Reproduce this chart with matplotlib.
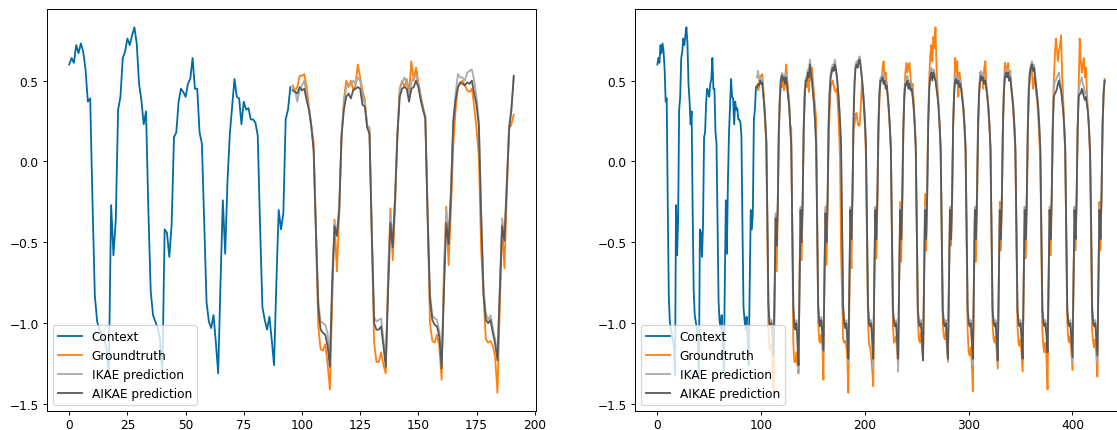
import numpy as np
import matplotlib
matplotlib.use("Agg")
import matplotlib.pyplot as plt

plt.style.use('tableau-colorblind10')

# context (first 96 steps, same in both panels)
context = [
    0.60, 0.64, 0.61, 0.72, 0.67, 0.73, 0.68, 0.57, 0.37, 0.39,
    -0.25, -0.83, -0.99, -1.04, -1.07, -1.10, -1.15, -1.32, -0.27, -0.58,
    -0.36, 0.32, 0.40, 0.64, 0.68, 0.76, 0.72, 0.78, 0.83, 0.73,
    0.48, 0.38, 0.23, 0.31, -0.30, -0.80, -0.95, -0.99, -1.03, -1.10,
    -1.32, -0.42, -0.44, -0.59, -0.39, 0.15, 0.18, 0.37, 0.45, 0.43,
    0.40, 0.48, 0.51, 0.64, 0.45, 0.45, 0.18, 0.11, -0.38, -0.87,
    -0.99, -1.03, -0.95, -1.12, -1.31, -0.75, -0.24, -0.57, -0.12, 0.17,
    0.34, 0.51, 0.40, 0.39, 0.23, 0.37, 0.32, 0.33, 0.26, 0.26,
    0.24, 0.16, -0.40, -0.90, -0.98, -1.04, -0.96, -1.10, -1.26, -0.75,
    -0.30, -0.42, -0.32, 0.26, 0.32, 0.46,
]

# groundtruth, steps 96-191
truth_short = [
    0.47, 0.44, 0.46, 0.53, 0.53, 0.54, 0.46, 0.34, 0.22, 0.12,
    -0.44, -1.02, -1.16, -1.17, -1.13, -1.25, -1.41, -0.85, -0.36, -0.68,
    -0.32, 0.14, 0.38, 0.50, 0.46, 0.50, 0.44, 0.47, 0.60, 0.52,
    0.44, 0.38, 0.22, 0.21, -0.45, -1.12, -1.24, -1.24, -1.18, -1.26,
    -1.31, -0.70, -0.29, -0.61, -0.28, 0.16, 0.45, 0.50, 0.46, 0.51,
    0.43, 0.62, 0.50, 0.58, 0.49, 0.41, 0.34, 0.26, -0.35, -1.00,
    -1.11, -1.12, -1.07, -1.14, -1.35, -0.65, -0.28, -0.64, -0.30, 0.10,
    0.32, 0.46, 0.48, 0.50, 0.47, 0.44, 0.43, 0.45, 0.34, 0.20,
    0.03, -0.55, -0.82, -1.10, -1.12, -1.11, -1.14, -1.21, -1.43, -0.90,
    -0.40, -0.66, -0.20, 0.20, 0.23, 0.29,
]

# groundtruth, steps 192-431 (one row per day)
truth_long_days = [
    [0.30, 0.24, 0.22, 0.23, 0.34, 0.48, 0.42, 0.34, 0.22, 0.02, -0.52, -1.00,
     -1.13, -1.15, -1.20, -1.28, -1.39, -0.80, -0.30, -0.60, -0.28, 0.12, 0.38, 0.50],
    [0.51, 0.58, 0.62, 0.52, 0.55, 0.48, 0.40, 0.30, 0.20, 0.08, -0.50, -1.02,
     -1.12, -1.10, -1.08, -1.18, -1.25, -0.70, -0.25, -0.62, -0.30, 0.15, 0.42, 0.55],
    [0.61, 0.55, 0.60, 0.61, 0.52, 0.45, 0.48, 0.38, 0.25, 0.10, -0.45, -0.98,
     -1.10, -1.12, -1.06, -1.15, -1.22, -0.65, -0.20, -0.55, -0.12, 0.28, 0.52, 0.66],
    [0.72, 0.62, 0.77, 0.70, 0.83, 0.58, 0.45, 0.35, 0.22, 0.05, -0.50, -1.00,
     -1.08, -1.10, -1.05, -1.16, -1.22, -0.70, -0.30, -0.52, -0.28, 0.20, 0.45, 0.64],
    [0.55, 0.62, 0.40, 0.55, 0.50, 0.44, 0.38, 0.30, 0.20, 0.06, -0.50, -1.05,
     -1.18, -1.20, -1.15, -1.25, -1.42, -0.80, -0.30, -0.62, -0.28, 0.15, 0.40, 0.55],
    [0.52, 0.55, 0.45, 0.58, 0.62, 0.48, 0.40, 0.32, 0.22, 0.08, -0.48, -1.00,
     -1.10, -1.12, -1.08, -1.18, -1.28, -0.75, -0.25, -0.55, -0.22, 0.22, 0.48, 0.61],
    [0.55, 0.58, 0.61, 0.50, 0.56, 0.45, 0.40, 0.30, 0.20, 0.05, -0.50, -1.02,
     -1.12, -1.14, -1.10, -1.20, -1.30, -0.72, -0.28, -0.60, -0.30, 0.18, 0.45, 0.52],
    [0.57, 0.55, 0.45, 0.52, 0.50, 0.42, 0.38, 0.28, 0.15, 0.02, -0.52, -1.05,
     -1.15, -1.18, -1.12, -1.22, -1.41, -0.78, -0.30, -0.58, -0.25, 0.20, 0.50, 0.65],
    [0.76, 0.70, 0.62, 0.68, 0.72, 0.78, 0.55, 0.40, 0.22, 0.05, -0.50, -1.00,
     -1.10, -1.12, -1.08, -1.18, -1.29, -0.72, -0.28, -0.55, -0.25, 0.20, 0.48, 0.76],
    [0.62, 0.55, 0.60, 0.64, 0.52, 0.58, 0.42, 0.30, 0.18, 0.02, -0.52, -1.05,
     -1.12, -1.15, -1.10, -1.20, -1.33, -0.75, -0.25, -0.55, -0.20, 0.22, 0.40, 0.51],
]

# predictions for the 96-step horizon (left panel)
ikae_short = [
    0.45, 0.44, 0.37, 0.44, 0.47, 0.50, 0.40, 0.33, 0.22, 0.08,
    -0.40, -0.86, -0.99, -1.00, -1.01, -1.06, -1.24, -0.72, -0.38, -0.44,
    -0.28, 0.17, 0.35, 0.46, 0.48, 0.47, 0.50, 0.48, 0.52, 0.50,
    0.40, 0.36, 0.23, 0.19, -0.42, -0.96, -0.99, -0.98, -0.97, -1.10,
    -1.24, -0.76, -0.33, -0.50, -0.21, 0.18, 0.44, 0.49, 0.52, 0.48,
    0.40, 0.49, 0.52, 0.53, 0.48, 0.40, 0.33, 0.28, -0.32, -0.82,
    -0.95, -0.97, -0.98, -1.05, -1.25, -0.76, -0.30, -0.46, -0.18, 0.26,
    0.42, 0.54, 0.52, 0.52, 0.50, 0.55, 0.56, 0.57, 0.50, 0.40,
    0.25, -0.30, -0.78, -0.94, -0.98, -0.95, -1.03, -1.10, -1.20, -0.78,
    -0.35, -0.46, -0.12, 0.22, 0.34, 0.52,
]
aikae_short = [
    0.44, 0.43, 0.42, 0.46, 0.44, 0.45, 0.38, 0.32, 0.22, 0.07,
    -0.44, -0.90, -1.04, -1.06, -1.07, -1.14, -1.27, -0.75, -0.40, -0.46,
    -0.30, 0.16, 0.32, 0.40, 0.42, 0.39, 0.44, 0.45, 0.46, 0.45,
    0.35, 0.34, 0.21, 0.17, -0.45, -1.00, -1.04, -1.04, -1.02, -1.14,
    -1.27, -0.80, -0.38, -0.53, -0.23, 0.16, 0.40, 0.45, 0.46, 0.45,
    0.37, 0.45, 0.46, 0.50, 0.46, 0.38, 0.32, 0.27, -0.35, -0.85,
    -0.98, -1.01, -1.02, -1.08, -1.28, -0.80, -0.38, -0.51, -0.20, 0.24,
    0.38, 0.46, 0.49, 0.48, 0.47, 0.49, 0.48, 0.50, 0.42, 0.35,
    0.22, -0.35, -0.82, -0.98, -1.00, -0.98, -1.06, -1.13, -1.23, -0.80,
    -0.40, -0.49, -0.15, 0.20, 0.32, 0.53,
]

# predictions for the 336-step horizon (right panel), one row per day
aikae_long_days = [
    [0.46, 0.48, 0.47, 0.50, 0.48, 0.49, 0.42, 0.35, 0.25, 0.12, -0.35, -0.88,
     -1.00, -1.02, -1.00, -1.08, -1.20, -0.80, -0.35, -0.52, -0.28, 0.18, 0.38, 0.50],
    [0.53, 0.50, 0.52, 0.48, 0.52, 0.47, 0.40, 0.34, 0.22, 0.10, -0.38, -0.90,
     -1.02, -1.04, -1.00, -1.10, -1.26, -0.78, -0.30, -0.50, -0.25, 0.20, 0.40, 0.50],
    [0.50, 0.55, 0.52, 0.60, 0.55, 0.50, 0.42, 0.35, 0.24, 0.10, -0.38, -0.90,
     -1.00, -1.02, -0.98, -1.08, -1.17, -0.75, -0.32, -0.50, -0.25, 0.22, 0.42, 0.52],
    [0.55, 0.58, 0.56, 0.60, 0.57, 0.52, 0.45, 0.36, 0.25, 0.10, -0.38, -0.90,
     -1.00, -1.03, -1.00, -1.10, -1.22, -0.75, -0.30, -0.48, -0.22, 0.25, 0.48, 0.58],
    [0.60, 0.58, 0.62, 0.63, 0.58, 0.52, 0.45, 0.36, 0.25, 0.10, -0.38, -0.90,
     -1.00, -1.02, -1.00, -1.10, -1.22, -0.75, -0.30, -0.48, -0.22, 0.22, 0.42, 0.50],
    [0.50, 0.52, 0.48, 0.50, 0.45, 0.47, 0.40, 0.33, 0.22, 0.08, -0.40, -0.92,
     -1.00, -1.02, -1.00, -1.10, -1.22, -0.75, -0.30, -0.48, -0.22, 0.20, 0.40, 0.48],
    [0.47, 0.50, 0.45, 0.48, 0.44, 0.45, 0.40, 0.33, 0.22, 0.08, -0.40, -0.92,
     -1.00, -1.02, -1.00, -1.10, -1.23, -0.75, -0.30, -0.48, -0.22, 0.22, 0.45, 0.52],
    [0.55, 0.50, 0.55, 0.52, 0.50, 0.45, 0.40, 0.33, 0.22, 0.08, -0.40, -0.92,
     -1.00, -1.02, -1.00, -1.10, -1.22, -0.75, -0.30, -0.48, -0.22, 0.22, 0.42, 0.50],
    [0.51, 0.48, 0.50, 0.46, 0.48, 0.44, 0.38, 0.32, 0.22, 0.08, -0.40, -0.92,
     -1.00, -1.02, -1.00, -1.10, -1.22, -0.75, -0.30, -0.48, -0.22, 0.22, 0.42, 0.50],
    [0.53, 0.50, 0.52, 0.48, 0.50, 0.45, 0.40, 0.33, 0.22, 0.08, -0.40, -0.92,
     -1.00, -1.02, -1.00, -1.10, -1.23, -0.75, -0.30, -0.48, -0.22, 0.22, 0.44, 0.52],
    [0.55, 0.52, 0.55, 0.50, 0.52, 0.46, 0.40, 0.33, 0.22, 0.08, -0.40, -0.92,
     -1.00, -1.02, -1.00, -1.10, -1.22, -0.75, -0.30, -0.48, -0.22, 0.22, 0.45, 0.55],
    [0.58, 0.60, 0.56, 0.58, 0.52, 0.46, 0.40, 0.33, 0.22, 0.08, -0.40, -0.92,
     -1.00, -1.02, -1.00, -1.08, -1.18, -0.75, -0.30, -0.48, -0.22, 0.20, 0.40, 0.42],
    [0.43, 0.45, 0.48, 0.50, 0.46, 0.44, 0.38, 0.32, 0.22, 0.08, -0.40, -0.92,
     -1.00, -1.02, -1.00, -1.10, -1.21, -0.75, -0.30, -0.48, -0.22, 0.20, 0.40, 0.42],
    [0.42, 0.45, 0.43, 0.40, 0.38, 0.40, 0.35, 0.30, 0.20, 0.05, -0.40, -0.92,
     -1.00, -1.02, -1.00, -1.10, -1.20, -0.75, -0.30, -0.48, -0.22, 0.22, 0.42, 0.50],
]
ikae_long_days = [
    [0.52, 0.56, 0.50, 0.52, 0.50, 0.51, 0.44, 0.36, 0.26, 0.13, -0.33, -0.86,
     -0.98, -1.00, -0.98, -1.06, -1.18, -0.78, -0.32, -0.50, -0.26, 0.20, 0.40, 0.52],
    [0.55, 0.52, 0.54, 0.50, 0.54, 0.48, 0.41, 0.35, 0.23, 0.11, -0.36, -0.88,
     -1.00, -1.02, -0.98, -1.12, -1.30, -0.76, -0.28, -0.48, -0.23, 0.22, 0.42, 0.52],
    [0.52, 0.57, 0.54, 0.63, 0.57, 0.51, 0.43, 0.36, 0.25, 0.11, -0.36, -0.88,
     -0.98, -1.00, -0.96, -1.06, -1.18, -0.73, -0.30, -0.48, -0.23, 0.24, 0.44, 0.55],
    [0.58, 0.60, 0.58, 0.63, 0.58, 0.53, 0.46, 0.37, 0.26, 0.11, -0.36, -0.88,
     -0.98, -1.01, -0.98, -1.08, -1.24, -0.73, -0.28, -0.46, -0.20, 0.27, 0.50, 0.60],
    [0.62, 0.60, 0.64, 0.65, 0.59, 0.53, 0.46, 0.37, 0.26, 0.11, -0.36, -0.88,
     -0.98, -1.00, -0.98, -1.10, -1.28, -0.73, -0.28, -0.46, -0.20, 0.24, 0.44, 0.52],
    [0.52, 0.55, 0.50, 0.53, 0.47, 0.49, 0.41, 0.34, 0.23, 0.09, -0.38, -0.90,
     -0.98, -1.00, -0.98, -1.10, -1.30, -0.73, -0.28, -0.46, -0.20, 0.22, 0.42, 0.50],
    [0.50, 0.53, 0.48, 0.50, 0.46, 0.46, 0.41, 0.34, 0.23, 0.09, -0.38, -0.90,
     -0.98, -1.00, -0.98, -1.08, -1.22, -0.73, -0.28, -0.46, -0.20, 0.24, 0.47, 0.55],
    [0.58, 0.53, 0.57, 0.55, 0.52, 0.46, 0.41, 0.34, 0.23, 0.09, -0.38, -0.90,
     -0.98, -1.00, -0.98, -1.10, -1.24, -0.73, -0.28, -0.46, -0.20, 0.24, 0.44, 0.52],
    [0.54, 0.50, 0.52, 0.48, 0.50, 0.45, 0.39, 0.33, 0.23, 0.09, -0.38, -0.90,
     -0.98, -1.00, -0.98, -1.12, -1.26, -0.73, -0.28, -0.46, -0.20, 0.24, 0.44, 0.52],
    [0.56, 0.52, 0.55, 0.50, 0.52, 0.46, 0.41, 0.34, 0.23, 0.09, -0.38, -0.90,
     -0.98, -1.00, -0.98, -1.10, -1.25, -0.73, -0.28, -0.46, -0.20, 0.24, 0.46, 0.54],
    [0.57, 0.54, 0.57, 0.52, 0.54, 0.47, 0.41, 0.34, 0.23, 0.09, -0.38, -0.90,
     -0.98, -1.00, -0.98, -1.10, -1.20, -0.73, -0.28, -0.46, -0.20, 0.24, 0.47, 0.57],
    [0.60, 0.62, 0.58, 0.60, 0.54, 0.47, 0.41, 0.34, 0.23, 0.09, -0.38, -0.90,
     -0.98, -1.00, -0.98, -1.06, -1.16, -0.73, -0.28, -0.46, -0.20, 0.22, 0.44, 0.50],
    [0.50, 0.52, 0.54, 0.55, 0.50, 0.47, 0.40, 0.33, 0.23, 0.09, -0.38, -0.90,
     -0.98, -1.00, -0.98, -1.10, -1.24, -0.73, -0.28, -0.46, -0.20, 0.22, 0.44, 0.48],
    [0.50, 0.52, 0.48, 0.46, 0.42, 0.44, 0.37, 0.31, 0.21, 0.06, -0.38, -0.90,
     -0.98, -1.00, -0.98, -1.10, -1.24, -0.73, -0.28, -0.46, -0.20, 0.24, 0.44, 0.50],
]

truth_long = truth_short + [v for day in truth_long_days for v in day]
aikae_long = [v for day in aikae_long_days for v in day]
ikae_long = [v for day in ikae_long_days for v in day]

t_ctx = np.arange(len(context))
t_short = np.arange(len(context), len(context) + len(truth_short))
t_long = np.arange(len(context), len(context) + len(truth_long))

plt.rcParams['xtick.major.pad'] = 2.5

fig = plt.figure(figsize=(1117 / 87, 431 / 87), dpi=87)
ax1 = fig.add_axes([47 / 1117, 19 / 431, 489 / 1117, 402 / 431])
ax2 = fig.add_axes([635 / 1117, 19 / 431, 492 / 1117, 402 / 431])

for ax, tt, gt, ik, aik in [(ax1, t_short, truth_short, ikae_short, aikae_short),
                            (ax2, t_long, truth_long, ikae_long, aikae_long)]:
    ax.plot(t_ctx, context, label='Context')
    ax.plot(tt, gt, label='Groundtruth')
    ax.plot(tt, ik, label='IKAE prediction')
    ax.plot(tt, aik, label='AIKAE prediction')
    ax.legend(loc='lower left')

fig.savefig('out.png', dpi=87)
